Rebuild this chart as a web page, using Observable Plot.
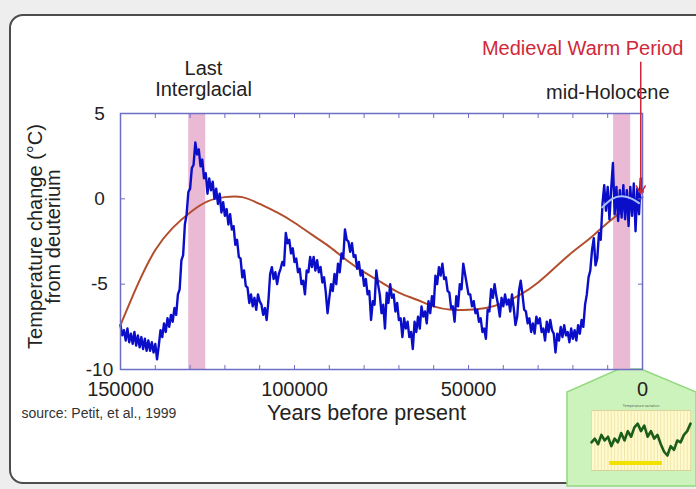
<!DOCTYPE html>
<html><head><meta charset="utf-8">
<script src="https://cdn.jsdelivr.net/npm/d3@7"></script>
<script src="https://cdn.jsdelivr.net/npm/@observablehq/plot@0.6"></script>
<style>
html,body{margin:0;padding:0;background:#eeeeee;}
#wrap{position:relative;width:696px;height:489px;overflow:hidden;font-family:"Liberation Sans",Arial,sans-serif;}
#panel{position:absolute;left:9px;top:14px;width:720px;height:466px;background:#fff;border:2px solid #4d4d4d;border-radius:14px;}
#callout{position:absolute;left:0;top:0;}
#main{position:absolute;left:0;top:0;}
#inset{position:absolute;left:586px;top:400px;}
</style></head>
<body>
<div id="wrap">
  <div id="panel"></div>
  <svg id="callout" width="696" height="489"><polygon points="619,369 641,369 696,392 696,486 567,486 567,392" fill="#cdf3bd" stroke="#93d97f" stroke-width="1.5"/></svg>
  <div id="main"></div>
  <div id="inset"></div>
</div>
<script>
// Vostok deuterium temperature record, 500-year samples (150 ka .. 12 ka)
const glacialYears = d3.range(150000, 11999, -500);
const glacialTemps = [
  -7.4,-8.0,-7.7,-8.3,-7.6,-8.4,-7.9,-8.5,-7.8,-8.6,
  -8.0,-8.7,-8.1,-8.8,-8.2,-8.9,-8.3,-8.9,-8.4,-9.0,
  -8.5,-9.4,-8.6,-7.7,-8.1,-7.3,-7.8,-7.0,-7.5,-6.8,
  -7.2,-6.4,-6.8,-5.6,-5.3,-3.6,-3.3,-1.5,-0.9,0.4,
  0.6,1.8,2.0,3.3,2.6,2.9,1.9,2.3,1.2,1.5,
  0.3,1.2,0.5,1.0,0.0,0.6,-0.3,0.3,-0.8,-0.2,
  -1.0,-0.6,-1.5,-0.9,-1.8,-1.6,-2.7,-2.4,-3.4,-3.5,
  -4.6,-4.2,-5.1,-5.2,-6.1,-5.6,-6.3,-5.8,-6.5,-5.6,
  -6.0,-6.2,-6.8,-6.4,-7.1,-6.0,-4.4,-4.0,-4.7,-4.3,
  -5.0,-4.4,-4.1,-3.7,-3.9,-2.0,-2.6,-2.4,-3.2,-2.9,
  -3.7,-3.5,-4.3,-4.1,-5.0,-4.8,-5.6,-4.2,-4.3,-3.4,
  -4.0,-3.4,-4.2,-3.6,-4.3,-4.0,-4.9,-4.6,-5.5,-6.7,
  -5.8,-5.0,-5.4,-4.4,-5.0,-3.8,-4.3,-3.2,-3.5,-1.8,
  -2.4,-2.5,-3.1,-2.6,-3.4,-3.3,-4.1,-3.7,-4.5,-4.2,
  -5.1,-4.7,-5.6,-5.4,-7.1,-6.0,-6.2,-4.2,-5.0,-5.6,
  -6.7,-6.2,-7.6,-5.5,-6.1,-5.0,-5.8,-5.6,-6.6,-6.1,
  -7.1,-7.0,-8.1,-7.0,-7.6,-7.2,-8.1,-7.8,-8.8,-7.2,
  -7.8,-6.9,-7.6,-6.3,-6.9,-6.6,-7.3,-6.0,-6.7,-5.7,
  -6.3,-4.5,-5.0,-4.0,-4.5,-3.8,-4.7,-4.6,-5.4,-5.5,
  -6.4,-6.3,-7.2,-5.7,-6.3,-5.0,-5.3,-3.8,-4.4,-5.0,
  -5.6,-5.6,-6.3,-6.0,-6.7,-6.5,-7.2,-7.0,-7.8,-7.6,
  -8.2,-6.5,-6.6,-5.3,-5.8,-5.0,-5.7,-6.2,-6.9,-5.8,
  -6.3,-5.6,-6.2,-5.9,-6.6,-5.6,-6.4,-7.4,-6.9,-5.4,
  -4.8,-5.6,-6.5,-6.6,-7.3,-7.0,-7.8,-7.3,-7.9,-6.9,
  -7.3,-7.0,-7.8,-7.6,-8.3,-7.2,-7.8,-7.1,-7.7,-7.9,
  -9.0,-7.9,-8.3,-7.5,-8.1,-7.4,-8.0,-7.8,-8.4,-7.6,
  -8.2,-7.7,-8.3,-7.4,-7.9,-7.1,-7.5,-6.2,-5.6,-4.6,
  -4.2,-3.0,-2.3,-3.9,-3.5,-2.0,-2.4
];
// Holocene part, 500-year samples (11.5 ka .. 0)
const holoceneYears = d3.range(11500, -1, -500);
const holoceneTemps = [
  -0.3,0.8,-0.7,0.7,-1.2,0.6,2.1,-0.9,0.7,-1.3,0.5,-1.1,
  0.8,-1.2,0.5,-1.6,0.7,-1.0,0.9,-1.9,0.6,-0.9,1.2,0.4
];
// light-blue smoothed Holocene mean
const meanYears = [11600, 8700, 5800, 3000, 1000];
const meanTemps = [-0.5, 0.0, 0.15, 0.0, -0.25];
// brown polynomial fit
const fitYears = d3.range(150000, -1, -5000);
const fitTemps = [-7.4,-5.0,-3.0,-1.7,-0.8,-0.15,0.1,0.1,-0.3,-0.8,-1.4,-2.1,-2.8,-3.6,-4.3,-4.9,
  -5.5,-5.9,-6.3,-6.5,-6.5,-6.4,-6.1,-5.6,-4.9,-4.0,-3.1,-2.3,-1.4,-0.6,0.1];
// warm periods (pink bands)
const bandNames = ["Last Interglacial", "mid-Holocene"];
const bandStart = [130400, 8300];
const bandEnd = [125500, 3400];
// axis ticks
const xTickLabels = [150000, 100000, 50000, 0];
const xMinorTicks = d3.range(0, 150001, 10000);
const yTickLabels = [5, 0, -5, -10];
// Medieval Warm Period arrow
const mwpArrow = [{year: 500, from: 8.0, to: 0.3}];

const vostok = glacialYears.map((year, i) => ({year, temp: glacialTemps[i]}))
  .concat(holoceneYears.map((year, i) => ({year, temp: holoceneTemps[i]})));
const fit = fitYears.map((year, i) => ({year, temp: fitTemps[i]}));
const mean = meanYears.map((year, i) => ({year, temp: meanTemps[i]}));
const bands = bandNames.map((name, i) => ({name, start: bandStart[i], end: bandEnd[i]}));

const font = "Liberation Sans, Arial, Helvetica, sans-serif";
const frameColor = "#6d6dc6";
const txt = "#222";

const chart = Plot.plot({
  width: 696, height: 489,
  marginLeft: 120, marginRight: 54, marginTop: 113, marginBottom: 120,
  x: {domain: [150000, 0]},
  y: {domain: [-10, 5]},
  style: {background: "transparent", fontFamily: font, overflow: "visible"},
  marks: [
    Plot.rect(bands, {x1: "start", x2: "end", fill: "#eab9d3"}),
    Plot.line(fit, {x: "year", y: "temp", stroke: "#b24e2c", strokeWidth: 2, curve: "natural"}),
    Plot.line(vostok, {x: "year", y: "temp", stroke: "#0a0ec8", strokeWidth: 2.4, strokeLinejoin: "round"}),
    Plot.line(mean, {x: "year", y: "temp", stroke: "#a9c2ff", strokeWidth: 2, curve: "natural"}),
    Plot.frame({stroke: frameColor, strokeWidth: 1.5}),
    Plot.axisX(xMinorTicks, {anchor: "bottom", tickSize: -4, tickFormat: () => "", stroke: frameColor}),
    Plot.axisX(xMinorTicks, {anchor: "top", tickSize: -4, tickFormat: () => "", stroke: frameColor}),
    Plot.axisX(xTickLabels, {anchor: "bottom", tickSize: 0, tickPadding: 12, tickFormat: d => String(d), fontSize: 20, fill: txt}),
    Plot.axisY([0, -5], {anchor: "left", tickSize: -5, tickFormat: () => "", stroke: frameColor}),
    Plot.axisY([0, -5], {anchor: "right", tickSize: -5, tickFormat: () => "", stroke: frameColor}),
    Plot.axisY(yTickLabels, {anchor: "left", tickSize: 0, tickPadding: 21, textAnchor: "middle", tickFormat: d => String(d), fontSize: 19, fill: txt}),
    Plot.text(["Years before present"], {frameAnchor: "bottom", dx: -15, dy: 44, textAnchor: "middle", lineAnchor: "middle", fontSize: 21.5, fill: txt}),
    Plot.text(["source: Petit, et al., 1999"], {frameAnchor: "bottom-left", dx: -99, dy: 44, textAnchor: "start", lineAnchor: "middle", fontSize: 14, fill: "#333"}),
    Plot.text(["Temperature change (°C)\nfrom deuterium"], {frameAnchor: "left", dx: -75, dy: -5, rotate: -90, textAnchor: "middle", lineAnchor: "middle", fontSize: 20, lineHeight: 0.88, fill: txt}),
    Plot.text(["Last\nInterglacial"], {frameAnchor: "top-left", dx: 83, dy: -35, textAnchor: "middle", lineAnchor: "middle", fontSize: 20, lineHeight: 1.05, fill: txt}),
    Plot.text(["mid-Holocene"], {frameAnchor: "top-right", dx: 27, dy: -21, textAnchor: "end", lineAnchor: "middle", fontSize: 20, fill: txt}),
    Plot.text(["Medieval Warm Period"], {frameAnchor: "top-right", dx: 41, dy: -65, textAnchor: "end", lineAnchor: "middle", fontSize: 20, fill: "#d0283a"}),
    Plot.arrow(mwpArrow, {x: "year", y1: "from", y2: "to", stroke: "#d0283a", strokeWidth: 1.5, headLength: 9})
  ]
});
document.getElementById("main").appendChild(chart);

// inset thumbnail (Medieval Warm Period chart)
const insetX = d3.range(0, 31);
const insetY = [-0.5,0.5,-1.0,1.5,0,1.0,-1.5,0.5,-0.5,2.0,0,2.5,1.0,3.5,4.5,2.5,4.0,1.0,2.5,0.5,1.5,-1.0,-3.0,-4.0,-1.5,-2.5,0,-0.5,1.5,2.5,4.5];
const insetPeriod = [{x1: 5.5, x2: 21.5, y: -6}];
const insetData = insetX.map((x, i) => ({x, y: insetY[i]}));
const inset = Plot.plot({
  width: 108, height: 78,
  marginLeft: 5, marginRight: 4, marginTop: 10, marginBottom: 8,
  x: {domain: [0, 30], axis: null},
  y: {domain: [-8, 8], axis: null},
  style: {background: "transparent", overflow: "visible"},
  marks: [
    Plot.frame({fill: "#fffbcf", stroke: "#d8cf9a"}),
    Plot.ruleX(d3.range(0, 31, 1), {stroke: "#eedfa0", strokeWidth: 0.8}),
    Plot.ruleY(insetPeriod, {x1: "x1", x2: "x2", y: "y", stroke: "#f1e200", strokeWidth: 4}),
    Plot.line(insetData, {x: "x", y: "y", stroke: "#1a5e1a", strokeWidth: 2.6}),
    Plot.text(["Temperature variation"], {frameAnchor: "top", dy: -6, fontSize: 3.5, fill: "#555"})
  ]
});
document.getElementById("inset").appendChild(inset);
</script>
</body></html>
